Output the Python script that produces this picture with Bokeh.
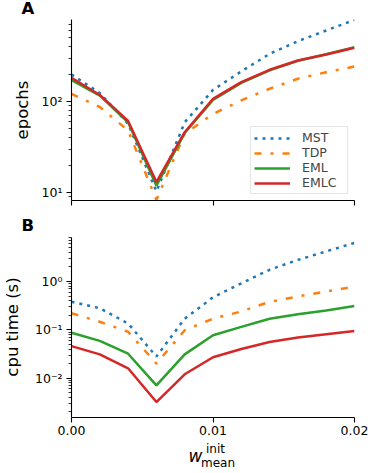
from bokeh.plotting import figure
from bokeh.models import (Range1d, FixedTicker, CustomJSTickFormatter, PrintfTickFormatter,
                          Legend, LegendItem, Div)
from bokeh.layouts import column, row
from bokeh.embed import file_html
from bokeh.resources import INLINE

# ---------------- data ----------------
w_mean = [0.000, 0.002, 0.004, 0.006, 0.008, 0.010, 0.012, 0.014, 0.016, 0.018, 0.020]
x_ticks = [0.00, 0.01, 0.02]

methods = ["MST", "TDP", "EML", "EMLC"]

epochs_MST = [198, 124, 57, 10.3, 59, 134, 214, 334, 460, 603, 789]
epochs_TDP = [121, 87, 48, 8.3, 44, 73, 103, 138, 178, 210, 242]
epochs_EML = [172, 116, 59, 11.9, 45, 104, 160, 220, 280, 330, 395]
epochs_EMLC = [182, 118, 61, 13.0, 46, 107, 163, 223, 282, 328, 390]

cpu_MST = [0.38, 0.28, 0.135, 0.028, 0.17, 0.47, 0.92, 1.75, 2.8, 4.2, 6.3]
cpu_TDP = [0.22, 0.147, 0.091, 0.020, 0.098, 0.17, 0.24, 0.38, 0.49, 0.62, 0.79]
cpu_EML = [0.087, 0.059, 0.032, 0.0071, 0.031, 0.077, 0.115, 0.17, 0.21, 0.25, 0.31]
cpu_EMLC = [0.046, 0.031, 0.016, 0.0032, 0.012, 0.027, 0.040, 0.056, 0.069, 0.081, 0.095]

epochs_range = (8.17, 796)
cpu_range = (0.00153, 8.15)

epochs_decades = [0, 1, 2]       # exponents of major ticks (10**e)
cpu_decades = [-3, -2, -1, 0]

panel_labels = ["A", "B"]
y_labels = ["epochs", "cpu time (s)"]
x_label = ("w", "init", "mean")

# ---------------- style ----------------
FONT = "DejaVu Sans"
COLORS = ["#1f77b4", "#ff7f0e", "#2ca02c", "#d62728"]
DASHES = ["3 5", "7 9 3 9", "solid", "solid"]
LW = 2.5
W = 374          # full width
WY = 30          # width of the y-label strip
WF = W - WY      # figure width

SUP_JS = """
const m = {'-':'\u207b','0':'\u2070','1':'\u00b9','2':'\u00b2','3':'\u00b3','4':'\u2074',
           '5':'\u2075','6':'\u2076','7':'\u2077','8':'\u2078','9':'\u2079'};
const e = Math.round(Math.log10(tick));
return '10' + String(e).split('').map(c => m[c]).join('');
"""


def log_ticker(decades):
    majors = [10.0 ** e for e in decades] + [10.0 ** (decades[-1] + 1)]
    minors = [k * 10.0 ** e for e in decades for k in range(2, 10)]
    return FixedTicker(ticks=majors, minor_ticks=minors)


def make_fig(height, border_bottom, yr, decades):
    p = figure(width=WF, height=height, x_range=Range1d(0, 0.02), y_range=Range1d(*yr),
               y_axis_type="log", output_backend="svg", toolbar_location=None,
               min_border_left=71 - WY, min_border_right=20,
               min_border_top=0, min_border_bottom=border_bottom, margin=0)
    p.outline_line_color = None
    p.grid.visible = False
    p.background_fill_color = "white"
    for ax in (p.xaxis[0], p.yaxis[0]):
        ax.axis_line_color = "black"
        ax.axis_line_width = 1.1
        ax.major_tick_line_width = 1.1
        ax.minor_tick_line_width = 0.8
        ax.major_tick_out = 5
        ax.major_tick_in = 0
        ax.minor_tick_out = 3
        ax.minor_tick_in = 0
        ax.major_label_text_font = FONT
        ax.major_label_text_font_size = "12.5px"
        ax.major_label_text_color = "black"
    p.xaxis.ticker = FixedTicker(ticks=x_ticks)
    p.yaxis.ticker = log_ticker(decades)
    p.yaxis.formatter = CustomJSTickFormatter(code=SUP_JS)
    p.yaxis.major_label_standoff = 4
    return p


def draw(p, series):
    rs = []
    for vals, c, d in zip(series, COLORS, DASHES):
        r = p.line(w_mean, vals, line_color=c, line_width=LW, line_dash=d)
        rs.append(r)
    return rs


def span(txt, left, top, size, extra=""):
    return (f'<span style="position:absolute;left:{left}px;top:{top}px;font-size:{size};'
            f'line-height:1;white-space:nowrap;color:black;font-family:\'DejaVu Sans\';{extra}">'
            f'{txt}</span>')


def vspan(txt, cx, cy, size):
    # vertical text (reading upwards) centred at (cx, cy)
    return span(txt, cx, cy, size,
                "transform:translate(-50%,-50%) rotate(-90deg);transform-origin:50% 50%;")


def text_div(width, height, spans):
    inner = (f'<div style="position:relative;width:{width}px;height:{height}px;">'
             + "".join(spans) + "</div>")
    return Div(text=inner, width=width, height=height, margin=0)


# ---------------- panel A ----------------
divA = text_div(W, 19, [span(panel_labels[0], 21.5, 1.4, "16.5px", "font-weight:bold;")])

hA = 199
pA = make_fig(hA, 18, epochs_range, epochs_decades)
pA.xaxis.formatter = CustomJSTickFormatter(code="return ''")
pA.xaxis.major_label_text_font_size = "0px"
pA.xaxis.major_label_standoff = 0
rsA = draw(pA, [epochs_MST, epochs_TDP, epochs_EML, epochs_EMLC])
legend = Legend(items=[LegendItem(label=m, renderers=[r]) for m, r in zip(methods, rsA)],
                location="bottom_right")
legend.label_text_font = FONT
legend.label_text_font_size = "12.5px"
legend.glyph_width = 36
legend.glyph_height = 14
legend.label_height = 14
legend.label_width = 42
legend.label_standoff = 12
legend.padding = 3
legend.spacing = 0
legend.margin = 6
legend.border_line_color = "#cccccc"
legend.border_line_width = 1
legend.background_fill_alpha = 0.8
pA.add_layout(legend)
divYA = text_div(WY, hA, [vspan(y_labels[0], 22.5, 90.5, "16.5px")])

# ---------------- panel B ----------------
divB = text_div(W, 19, [span(panel_labels[1], 21.5, 0, "16.5px", "font-weight:bold;")])

hB = 205
pB = make_fig(hB, 25, cpu_range, cpu_decades)
pB.xaxis.formatter = PrintfTickFormatter(format="%.2f")
pB.xaxis.major_label_standoff = 3
draw(pB, [cpu_MST, cpu_TDP, cpu_EML, cpu_EMLC])
divYB = text_div(WY, hB, [vspan(y_labels[1], 12.8, 90, "16.5px")])

divX = text_div(W, 31, [
    span(x_label[0], 188.5, 6.3, "17px", "font-style:italic;"),
    span(x_label[1], 206, 0.85, "12px"),
    span(x_label[2], 201, 14.85, "12px"),
])

layout = column(divA, row(divYA, pA, spacing=0), divB, row(divYB, pB, spacing=0), divX,
                spacing=0)
open("out.html", "w").write(file_html(layout, INLINE))
